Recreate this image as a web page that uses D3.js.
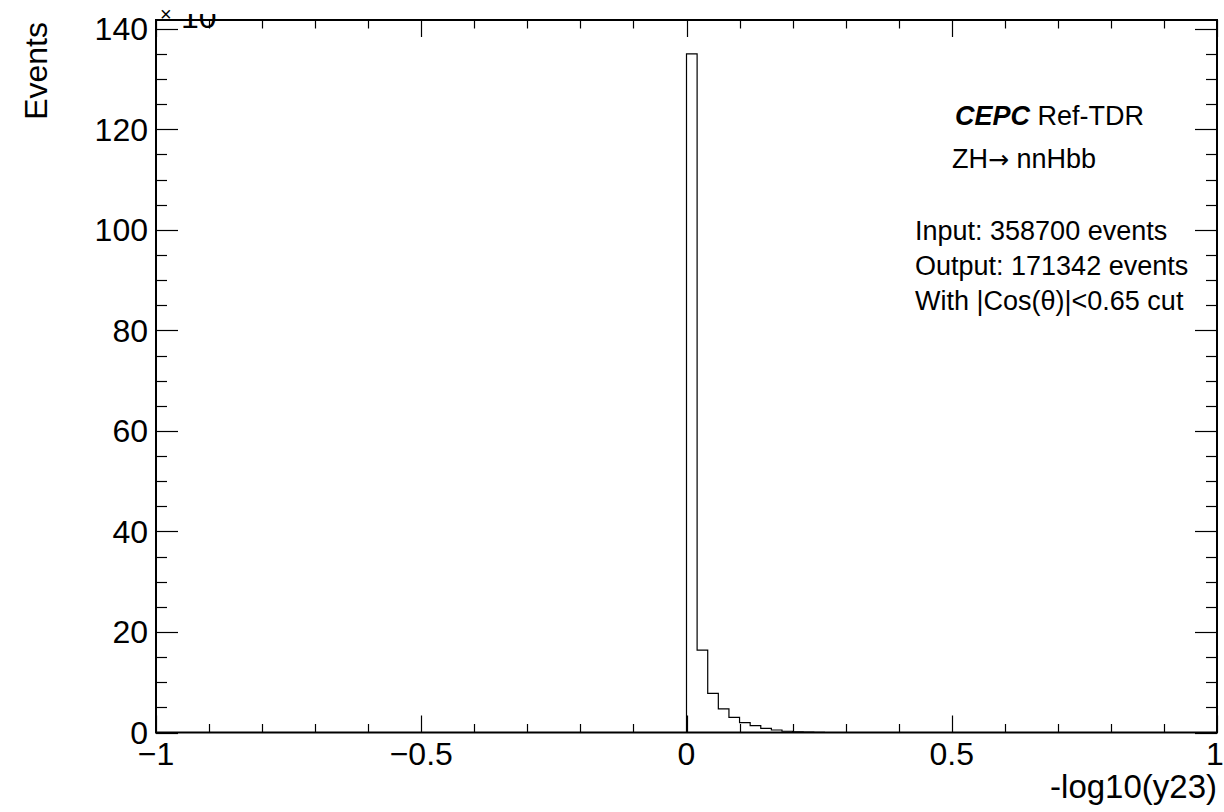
<!DOCTYPE html>
<html>
<head>
<meta charset="utf-8">
<script src="https://cdn.jsdelivr.net/npm/d3@7"></script>
<style>
  html, body { margin: 0; padding: 0; background: #fff; }
  svg { display: block; }
  text { font-family: "Liberation Sans", Arial, Helvetica, sans-serif; fill: #000; }
</style>
</head>
<body>
<svg id="chart" width="1224" height="812"></svg>
<script>
// ---- data (counts in units of 10^3) ----
const binLow = [0.00, 0.02, 0.04, 0.06, 0.08, 0.10, 0.12, 0.14, 0.16, 0.18, 0.20, 0.22, 0.24];
const counts = [135, 16.4, 7.8, 4.7, 3.0, 1.95, 1.35, 0.84, 0.5, 0.25, 0.12, 0.06, 0.03];
const binWidth = 0.02;
const xTicks = [-1, -0.5, 0, 0.5, 1];
const xTickLabels = ["\u22121", "\u22120.5", "0", "0.5", "1"];
const yTicks = [0, 20, 40, 60, 80, 100, 120, 140];
const textLines = ["Input: 358700 events", "Output: 171342 events", "With |Cos(\u03b8)|<0.65 cut"];

(function () {
const svg = d3.select("#chart");
const fL = 156, fR = 1217, fT = 20, fB = 732.5;
const yMax = 141.75;

const x = d3.scaleLinear().domain([-1, 1]).range([fL, fR]);
const y = d3.scaleLinear().domain([0, yMax]).range([fB, fT]);

// histogram outline (ROOT style step line)
const pts = [[-1, 0], [binLow[0], 0]];
binLow.forEach((b, i) => { pts.push([b, counts[i]]); pts.push([b + binWidth, counts[i]]); });
pts.push([binLow[binLow.length - 1] + binWidth, 0]);
pts.push([1, 0]);
svg.append("path")
  .attr("d", d3.line().x(d => x(d[0])).y(d => y(d[1]))(pts))
  .attr("fill", "none").attr("stroke", "#000").attr("stroke-width", 1.2);

// ticks
const tickG = svg.append("g").attr("stroke", "#000").attr("stroke-width", 1.2);
const yMinor = d3.range(0, 141, 5);
yMinor.forEach(v => {
  const major = v % 20 === 0;
  const len = major ? 22 : 11;
  const yy = Math.round(y(v)) + 0.5;
  tickG.append("line").attr("x1", fL).attr("x2", fL + len).attr("y1", yy).attr("y2", yy);
  tickG.append("line").attr("x1", fR).attr("x2", fR - len).attr("y1", yy).attr("y2", yy);
});
const xMinor = d3.range(-10, 11).map(k => k / 10);
xMinor.forEach(v => {
  const major = Math.abs(v * 2 - Math.round(v * 2)) < 1e-9;
  const len = major ? 17 : 8.5;
  const xx = Math.round(x(v)) + 0.5;
  tickG.append("line").attr("x1", xx).attr("x2", xx).attr("y1", fB).attr("y2", fB - len);
  tickG.append("line").attr("x1", xx).attr("x2", xx).attr("y1", fT).attr("y2", fT + len);
});

// frame
svg.append("rect")
  .attr("x", fL).attr("y", fT).attr("width", fR - fL).attr("height", fB - fT)
  .attr("fill", "none").attr("stroke", "#000").attr("stroke-width", 2);

// y tick labels
svg.append("g").selectAll("text").data(yTicks).join("text")
  .attr("x", 148).attr("y", d => y(d) + 11.5)
  .attr("text-anchor", "end").attr("font-size", 32)
  .text(d => d);

// x tick labels
svg.append("g").selectAll("text").data(xTicks).join("text")
  .attr("x", (d, i) => x(d) + (i === xTicks.length - 1 ? -2 : 0)).attr("y", 765)
  .attr("text-anchor", "middle").attr("font-size", 32)
  .text((d, i) => xTickLabels[i]);

// axis titles
svg.append("text").attr("x", fR).attr("y", 798)
  .attr("text-anchor", "end").attr("font-size", 33).text("-log10(y23)");
svg.append("text").attr("transform", "translate(47,22) rotate(-90)")
  .attr("text-anchor", "end").attr("font-size", 32).text("Events");

// exponent label (partially clipped, as in the reference)
svg.append("defs").append("clipPath").attr("id", "expclip")
  .append("rect").attr("x", 150).attr("y", 14).attr("width", 80).attr("height", 20);
svg.append("text").attr("x", 160).attr("y", 21).attr("font-size", 20).text("\u00d7");
svg.append("text").attr("x", 181).attr("y", 28).attr("font-size", 32)
  .attr("clip-path", "url(#expclip)").text("10");

// text block
const t1 = svg.append("text").attr("x", 955).attr("y", 125).attr("font-size", 27);
t1.append("tspan").attr("font-weight", "bold").attr("font-style", "italic").text("CEPC");
t1.append("tspan").text(" Ref-TDR");
const t2 = svg.append("text").attr("x", 952).attr("y", 168).attr("font-size", 27);
t2.append("tspan").text("ZH");
t2.append("tspan").attr("font-family", "DejaVu Sans").attr("font-size", 25).text("\u2192");
t2.append("tspan").text(" nnHbb");
svg.append("g").selectAll("text").data(textLines).join("text")
  .attr("x", 915).attr("y", (d, i) => 240 + i * 35)
  .attr("font-size", 27).text(d => d);
})();
</script>
</body>
</html>
